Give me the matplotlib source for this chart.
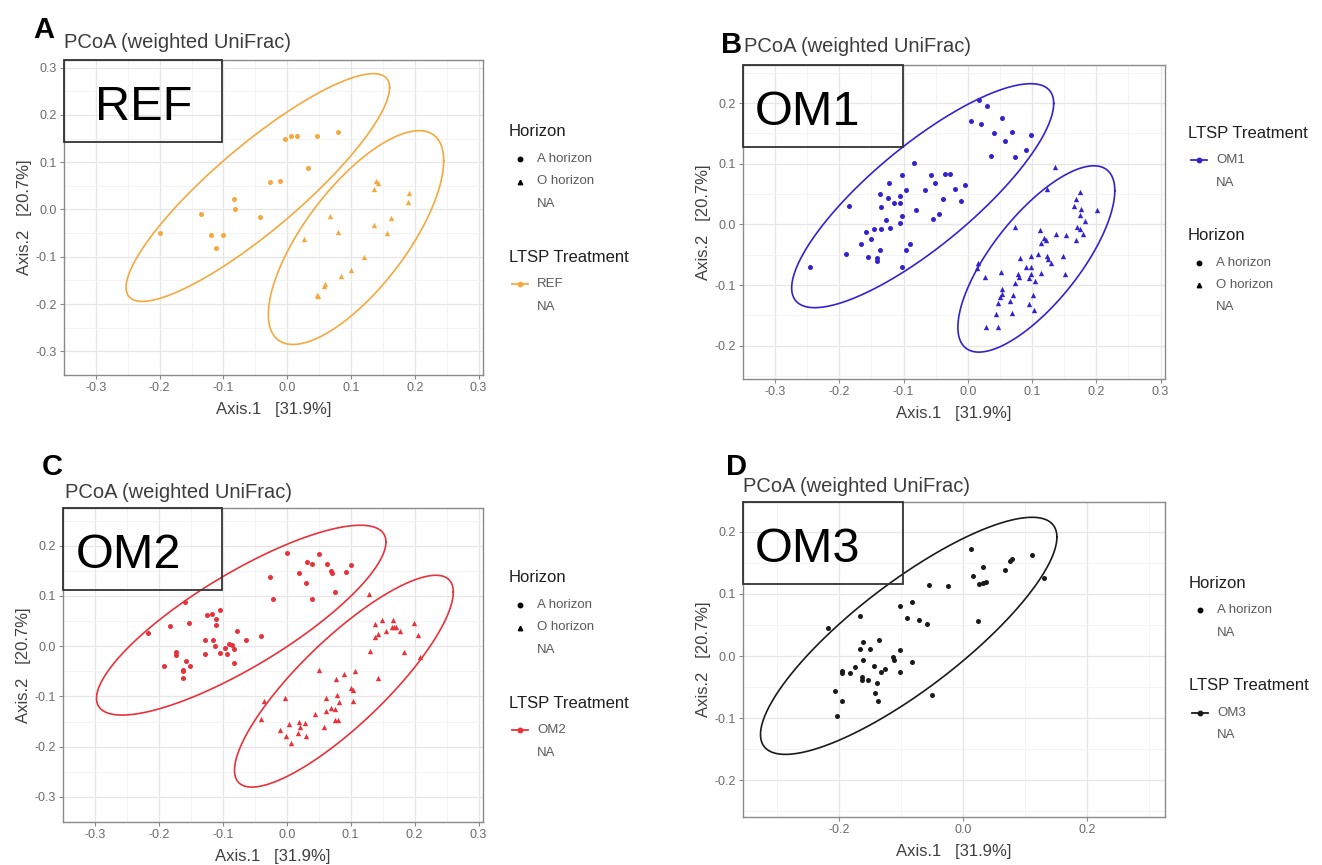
import numpy as np
import matplotlib
matplotlib.use('Agg')
import matplotlib.pyplot as plt
from matplotlib.lines import Line2D
from matplotlib.patches import Rectangle

plt.rcParams['font.family'] = ['Liberation Sans', 'DejaVu Sans']
plt.rcParams['axes.unicode_minus'] = False

# ---- data ----
# REF
ref_a_x = [-0.199, -0.135, -0.120, -0.101, -0.111, -0.083, -0.082, -0.043, -0.027, -0.012,
           0.032, -0.003, 0.006, 0.015, 0.046, 0.080]
ref_a_y = [-0.049, -0.010, -0.055, -0.055, -0.082, 0.022, 0.002, -0.017, 0.059, 0.060,
           0.087, 0.148, 0.156, 0.156, 0.156, 0.164]
ref_o_x = [0.026, 0.067, 0.080, 0.120, 0.100, 0.084, 0.060, 0.058, 0.046, 0.048,
           0.136, 0.139, 0.143, 0.136, 0.162, 0.157, 0.189, 0.191]
ref_o_y = [-0.063, -0.014, -0.047, -0.101, -0.129, -0.141, -0.158, -0.161, -0.181, -0.184,
           0.044, 0.060, 0.055, -0.033, -0.018, -0.050, 0.016, 0.035]

# OM1
om1_a_x = [-0.246, -0.189, -0.185, -0.166, -0.159, -0.156, -0.151, -0.146, -0.141, -0.141,
           -0.137, -0.135, -0.135, -0.136, -0.127, -0.124, -0.123, -0.121, -0.115, -0.106,
           -0.105, -0.105, -0.102, -0.102, -0.103, -0.096, -0.096, -0.090, -0.083, -0.080,
           -0.067, -0.058, -0.054, -0.051, -0.045, -0.038, -0.036, -0.028, -0.020, -0.010,
           -0.005, 0.005, 0.017, 0.020, 0.030, 0.040, 0.036, 0.054, 0.058, 0.069,
           0.073, 0.090, 0.098]
om1_a_y = [-0.071, -0.048, 0.031, -0.032, -0.012, -0.053, -0.024, -0.007, -0.056, -0.060,
           0.051, 0.028, -0.007, -0.042, 0.007, 0.043, 0.069, -0.006, 0.036, 0.035,
           0.047, 0.002, 0.014, 0.082, -0.070, 0.057, -0.043, -0.032, 0.102, 0.023,
           0.057, 0.081, 0.009, 0.068, 0.017, 0.042, 0.084, 0.084, 0.058, 0.039,
           0.065, 0.170, 0.205, 0.166, 0.196, 0.150, 0.113, 0.175, 0.137, 0.153,
           0.111, 0.122, 0.147]
om1_o_x = [0.136, 0.123, 0.174, 0.169, 0.166, 0.176, 0.201, 0.175, 0.182, 0.170,
           0.174, 0.179, 0.168, 0.073, 0.113, 0.137, 0.153, 0.118, 0.121, 0.114,
           0.099, 0.109, 0.124, 0.125, 0.130, 0.148, 0.082, 0.090, 0.099, 0.114,
           0.151, 0.078, 0.080, 0.098, 0.095, 0.104, 0.074, 0.026, 0.052, 0.016,
           0.015, 0.054, 0.053, 0.050, 0.071, 0.102, 0.047, 0.065, 0.096, 0.103,
           0.044, 0.069, 0.029, 0.047]
om1_o_y = [0.094, 0.058, 0.053, 0.042, 0.031, 0.026, 0.023, 0.015, 0.006, -0.004,
           -0.007, -0.015, -0.026, -0.005, -0.010, -0.016, -0.017, -0.022, -0.026, -0.030,
           -0.052, -0.049, -0.052, -0.057, -0.063, -0.052, -0.055, -0.070, -0.071, -0.080,
           -0.081, -0.082, -0.087, -0.082, -0.089, -0.093, -0.096, -0.086, -0.079, -0.063,
           -0.072, -0.107, -0.114, -0.120, -0.116, -0.116, -0.130, -0.127, -0.132, -0.141,
           -0.148, -0.146, -0.169, -0.169]

# OM2
om2_a_x = [-0.217, -0.183, -0.159, -0.153, -0.192, -0.173, -0.173, -0.157, -0.151, -0.162,
           -0.162, -0.162, -0.128, -0.116, -0.128, -0.113, -0.124, -0.117, -0.111, -0.105,
           -0.110, -0.104, -0.097, -0.094, -0.090, -0.085, -0.082, -0.083, -0.078, -0.064,
           -0.040, -0.026, -0.022, 0.001, 0.019, 0.030, 0.032, 0.040, 0.040, 0.051,
           0.063, 0.070, 0.071, 0.075, 0.093, 0.101]
om2_a_y = [0.026, 0.040, 0.088, 0.047, -0.039, -0.012, -0.018, -0.030, -0.039, -0.047,
           -0.050, -0.064, 0.013, 0.013, -0.015, 0.001, 0.062, 0.064, 0.054, 0.072,
           0.043, -0.014, -0.004, -0.015, 0.004, 0.002, -0.006, -0.033, 0.031, 0.013,
           0.020, 0.137, 0.094, 0.186, 0.146, 0.125, 0.168, 0.164, 0.094, 0.184,
           0.164, 0.149, 0.146, 0.108, 0.148, 0.161]
om2_o_x = [0.129, 0.138, 0.149, 0.166, 0.142, 0.138, 0.155, 0.164, 0.168, 0.171,
           0.177, 0.199, 0.205, 0.130, 0.183, 0.208, 0.142, 0.050, 0.077, 0.090,
           0.107, 0.101, 0.103, 0.103, 0.078, 0.081, 0.061, -0.003, -0.036, -0.041,
           0.044, 0.061, 0.070, 0.075, 0.076, 0.080, 0.058, 0.003, 0.019, 0.029,
           0.020, -0.011, 0.017, -0.001, 0.030, 0.007]
om2_o_y = [0.103, 0.044, 0.052, 0.053, 0.025, 0.018, 0.030, 0.039, 0.038, 0.038,
           0.030, 0.047, 0.022, -0.009, -0.011, -0.021, -0.064, -0.047, -0.066, -0.055,
           -0.050, -0.084, -0.088, -0.110, -0.098, -0.111, -0.103, -0.103, -0.110, -0.144,
           -0.135, -0.130, -0.123, -0.126, -0.146, -0.147, -0.160, -0.154, -0.150, -0.152,
           -0.160, -0.166, -0.172, -0.179, -0.179, -0.193]

# OM3 (A horizon only)
om3_a_x = [-0.218, -0.166, -0.161, -0.167, -0.151, -0.136, -0.161, -0.174, -0.183, -0.195,
           -0.195, -0.164, -0.163, -0.153, -0.144, -0.139, -0.132, -0.126, -0.143, -0.138,
           -0.195, -0.207, -0.203, -0.113, -0.112, -0.102, -0.102, -0.082, -0.102, -0.082,
           -0.091, -0.072, -0.058, -0.055, -0.025, -0.051, 0.012, 0.016, 0.032, 0.025,
           0.032, 0.037, 0.023, 0.067, 0.075, 0.079, 0.110, 0.130]
om3_a_y = [0.045, 0.064, 0.022, 0.011, 0.012, 0.026, -0.006, -0.018, -0.027, -0.024,
           -0.027, -0.034, -0.039, -0.038, -0.016, -0.044, -0.025, -0.021, -0.059, -0.072,
           -0.072, -0.057, -0.096, -0.002, -0.006, 0.009, -0.025, -0.009, 0.081, 0.087,
           0.062, 0.058, 0.051, 0.114, 0.112, -0.063, 0.172, 0.129, 0.143, 0.116,
           0.118, 0.119, 0.056, 0.139, 0.153, 0.156, 0.163, 0.126]

treatments = ['REF', 'OM1', 'OM2', 'OM3']
colors = ['#F5A83E', '#3323CF', '#E8323A', '#1a1a1a']
x_label = 'Axis.1   [31.9%]'
y_label = 'Axis.2   [20.7%]'
title = 'PCoA (weighted UniFrac)'

W, H = 1322, 865


def fx(px):
    return px / W


def fy(py):
    return 1 - py / H


def ellipse_path(x, y, level=0.95, segments=120):
    # normal-theory confidence ellipse (like stat_ellipse(type = "norm"))
    pts = np.column_stack([x, y])
    center = pts.mean(axis=0)
    shape = np.cov(pts, rowvar=False)
    dfd = len(pts) - 1
    # F quantile with 2 numerator df has a closed form
    qf = dfd / 2 * ((1 - level) ** (-2 / dfd) - 1)
    radius = np.sqrt(2 * qf)
    chol = np.linalg.cholesky(shape).T
    t = np.linspace(0, 2 * np.pi, segments)
    circle = np.column_stack([np.cos(t), np.sin(t)])
    e = center + radius * circle @ chol
    return e[:, 0], e[:, 1]


# layout in pixels: left, top, right, bottom of the panel area
panels = [
    dict(box=(64, 60, 483, 375), xlim=(-0.318, 0.307), ylim=(-0.316, 0.316),
         xt=np.arange(-0.3, 0.31, 0.1), yt=np.arange(-0.3, 0.31, 0.1),
         letter='A', letter_pos=(33, 38), title_pos=(64, 48), tx=0.075,
         groups=[(ref_a_x, ref_a_y, 'o'), (ref_o_x, ref_o_y, '^')],
         leg_x=509, leg_y=132, leg_order=['hor', 'trt'], horizons=2),
    dict(box=(743, 65, 1165, 379), xlim=(-0.324, 0.307), ylim=(-0.255, 0.263),
         xt=np.arange(-0.3, 0.31, 0.1), yt=np.arange(-0.2, 0.21, 0.1),
         letter='B', letter_pos=(721, 53), title_pos=(744, 52), tx=0.028,
         groups=[(om1_a_x, om1_a_y, 'o'), (om1_o_x, om1_o_y, '^')],
         leg_x=1188, leg_y=133, leg_order=['trt', 'hor'], horizons=2),
    dict(box=(63, 508, 483, 822), xlim=(-0.328, 0.307), ylim=(-0.307, 0.275),
         xt=np.arange(-0.3, 0.31, 0.1), yt=np.arange(-0.3, 0.21, 0.1),
         letter='C', letter_pos=(42, 475), title_pos=(65, 498), tx=0.031,
         groups=[(om2_a_x, om2_a_y, 'o'), (om2_o_x, om2_o_y, '^')],
         leg_x=509, leg_y=578, leg_order=['hor', 'trt'], horizons=2),
    dict(box=(743, 502, 1165, 817), xlim=(-0.355, 0.325), ylim=(-0.259, 0.248),
         xt=np.arange(-0.2, 0.21, 0.2), yt=np.arange(-0.2, 0.21, 0.1),
         letter='D', letter_pos=(726, 475), title_pos=(743, 492), tx=0.028,
         groups=[(om3_a_x, om3_a_y, 'o')],
         leg_x=1189, leg_y=583, leg_order=['hor', 'trt'], horizons=1),
]

fig = plt.figure(figsize=(W / 100, H / 100), dpi=100)

for p, trt, col in zip(panels, treatments, colors):
    l, t, r, b = p['box']
    ax = fig.add_axes([fx(l), fy(b), (r - l) / W, (b - t) / H])
    ax.set_xlim(*p['xlim'])
    ax.set_ylim(*p['ylim'])
    ax.set_xticks(p['xt'])
    ax.set_yticks(p['yt'])
    ax.set_xticklabels(['%.1f' % v if abs(v) > 1e-9 else '0.0' for v in p['xt']])
    ax.set_yticklabels(['%.1f' % v if abs(v) > 1e-9 else '0.0' for v in p['yt']])
    xstep = p['xt'][1] - p['xt'][0]
    ystep = p['yt'][1] - p['yt'][0]
    ax.set_xticks(np.arange(p['xt'][0] - xstep / 2, p['xlim'][1], xstep), minor=True)
    ax.set_yticks(np.arange(p['yt'][0] - ystep / 2, p['ylim'][1], ystep), minor=True)
    ax.grid(True, which='major', color='#e6e6e6', lw=0.9)
    ax.grid(True, which='minor', color='#f2f2f2', lw=0.6)
    ax.set_axisbelow(True)
    ax.tick_params(which='major', length=3, width=0.8, color='#888888', labelsize=9,
                   labelcolor='#6b6b6b', pad=2)
    ax.tick_params(which='minor', length=0)
    for s in ax.spines.values():
        s.set_color('#8a8a8a')
        s.set_linewidth(1.0)
    ax.set_xlabel(x_label, fontsize=12, color='#404040', labelpad=6)
    ax.set_ylabel(y_label, fontsize=12, color='#404040', labelpad=3)

    for gx, gy, mk in p['groups']:
        ax.scatter(gx, gy, s=13 if mk == 'o' else 15, marker=mk, color=col,
                   linewidths=0, zorder=3)
        ex, ey = ellipse_path(gx, gy)
        ax.plot(ex, ey, color=col, lw=1.2, zorder=2)

    # label box in top-left corner
    ax.add_patch(Rectangle((0, 0.74), 0.378, 0.26, transform=ax.transAxes, fill=False,
                           edgecolor='#333333', lw=1.3, zorder=5, clip_on=False))
    ax.text(p['tx'], 0.81, trt, transform=ax.transAxes, fontsize=35, color='black',
            ha='left', va='baseline', zorder=6)

    fig.text(fx(p['title_pos'][0]), fy(p['title_pos'][1]), title, fontsize=14.5,
             color='#3d3d3d', ha='left', va='baseline')
    fig.text(fx(p['letter_pos'][0]), fy(p['letter_pos'][1]), p['letter'], fontsize=21,
             fontweight='bold', color='black', ha='left', va='baseline')

    # legends
    x0 = p['leg_x']
    y = p['leg_y']
    hor_items = [('o', 'A horizon'), ('^', 'O horizon')][:p['horizons']] + [(None, 'NA')]
    trt_items = [('line', trt), (None, 'NA')]
    for block in p['leg_order']:
        if block == 'hor':
            head, items = 'Horizon', hor_items
        else:
            head, items = 'LTSP Treatment', trt_items
        fig.text(fx(x0), fy(y), head, fontsize=12, color='#1f1f1f', ha='left', va='center')
        y += 27
        for kind, lab in items:
            if kind in ('o', '^'):
                fig.add_artist(Line2D([fx(x0 + 11)], [fy(y)], transform=fig.transFigure,
                                      marker=kind, ms=3.2, color='black', ls='none'))
            elif kind == 'line':
                fig.add_artist(Line2D([fx(x0 + 3), fx(x0 + 19)], [fy(y), fy(y)],
                                      transform=fig.transFigure, color=col, lw=1.3))
                fig.add_artist(Line2D([fx(x0 + 11)], [fy(y)], transform=fig.transFigure,
                                      marker='o', ms=3.2, color=col, ls='none'))
            fig.text(fx(x0 + 28), fy(y), lab, fontsize=9.5, color='#5a5a5a',
                     ha='left', va='center')
            y += 22.5
        y += 53 - 22.5

fig.savefig('out.png', dpi=100, facecolor='white')
